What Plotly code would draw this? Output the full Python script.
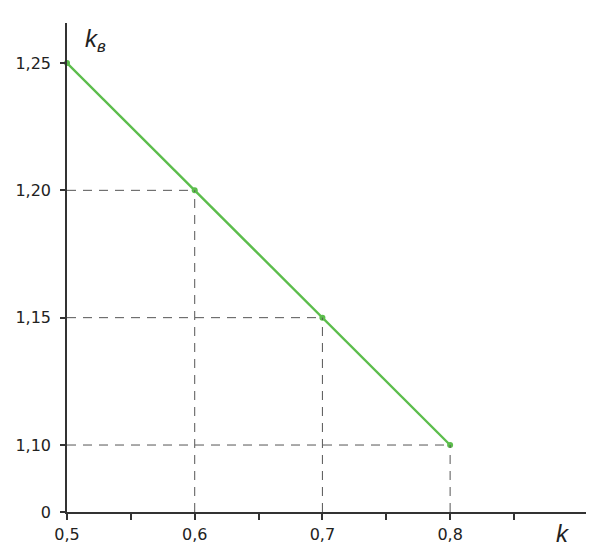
import plotly.graph_objects as go

k_vals = [0.5, 0.6, 0.7, 0.8]
kv_vals = [1.25, 1.20, 1.15, 1.10]
x_tick_vals = [0.5, 0.55, 0.6, 0.65, 0.7, 0.75, 0.8, 0.85]
x_tick_text = ["0,5", "", "0,6", "", "0,7", "", "0,8", ""]
y_zero_pos = 1.0737  # broken axis: "0" shown at the axis origin
y_tick_vals = [y_zero_pos, 1.10, 1.15, 1.20, 1.25]
y_tick_text = ["0", "1,10", "1,15", "1,20", "1,25"]

# page has an 8px body offset
W, H = 592, 549
ml, mr, mt, mb = 59, 14, 15, 45
x_range = [0.5, 0.9064]
y_range = [y_zero_pos, 1.2657]

fig = go.Figure()

shapes = []
for xv, yv in zip(k_vals, kv_vals):
    if xv > x_range[0]:
        shapes.append(dict(type="line", xref="x", yref="y", x0=x_range[0], x1=xv, y0=yv, y1=yv,
                           line=dict(color="#555555", width=1, dash="9px,7px")))
        shapes.append(dict(type="line", xref="x", yref="y", x0=xv, x1=xv, y0=y_zero_pos, y1=yv,
                           line=dict(color="#555555", width=1, dash="9px,7px")))

fig.add_trace(go.Scatter(
    x=k_vals, y=kv_vals, mode="lines+markers",
    line=dict(color="#5cbd4c", width=2.4),
    marker=dict(color="#5cbd4c", size=6),
    cliponaxis=False, showlegend=False,
))

fig.update_layout(
    width=W, height=H,
    margin=dict(l=ml, r=mr, t=mt, b=mb, autoexpand=False),
    paper_bgcolor="white", plot_bgcolor="white",
    font=dict(family="DejaVu Sans, Verdana, sans-serif", size=16, color="#222222"),
    shapes=shapes,
    xaxis=dict(range=x_range, tickvals=x_tick_vals, ticktext=x_tick_text, automargin=False,
               showgrid=False, zeroline=False, showline=True, linecolor="#333333", linewidth=1.5,
               ticks="outside", ticklen=6, tickwidth=1.5, tickcolor="#333333",
               tickfont=dict(size=16), ticklabelstandoff=1, fixedrange=True),
    yaxis=dict(range=y_range, tickvals=y_tick_vals, ticktext=y_tick_text, automargin=False,
               showgrid=False, zeroline=False, showline=True, linecolor="#333333", linewidth=1.5,
               ticks="outside", ticklen=5, tickwidth=1.5, tickcolor="#333333",
               tickfont=dict(size=16), ticklabelstandoff=6, fixedrange=True),
    annotations=[
        dict(text="<i>k</i>", xref="paper", yref="paper", x=1.0, y=0, xanchor="right", yanchor="top",
             xshift=-14, yshift=-6, showarrow=False,
             font=dict(family="Liberation Sans, Arial, sans-serif", size=24, color="#222222")),
        dict(text="<i>k</i><sub><i>в</i></sub>", xref="paper", yref="paper", x=0, y=1, xanchor="left", yanchor="top",
             xshift=16, yshift=0, showarrow=False,
             font=dict(family="Liberation Sans, Arial, sans-serif", size=24, color="#222222")),
    ],
)

fig.write_html("out.html")
